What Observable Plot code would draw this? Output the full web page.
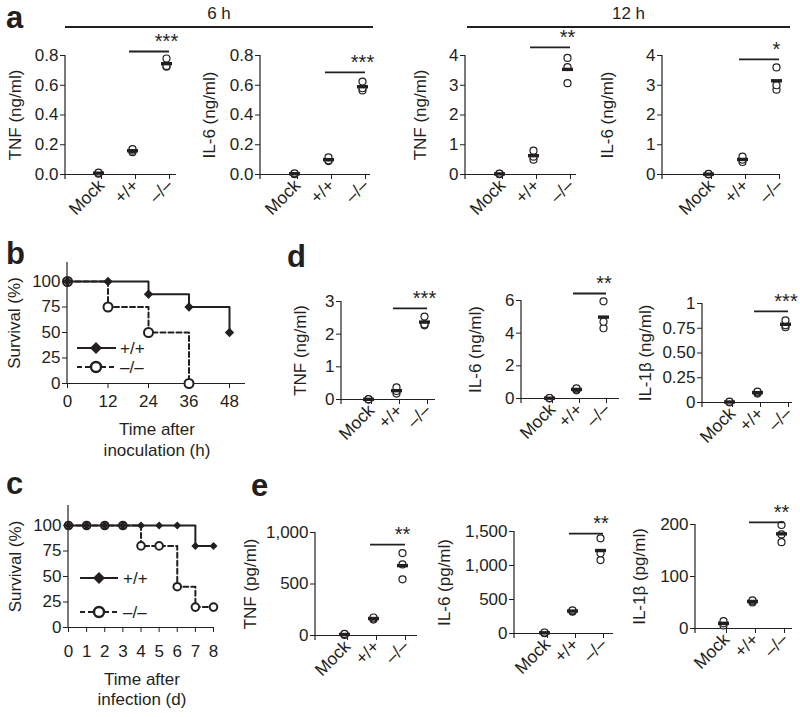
<!DOCTYPE html>
<html><head><meta charset="utf-8">
<script src="https://cdn.jsdelivr.net/npm/d3@7"></script>
<script src="https://cdn.jsdelivr.net/npm/@observablehq/plot@0.6"></script>
<style>
html,body{margin:0;padding:0;background:#fff}
#fig{position:relative;width:800px;height:717px;overflow:hidden;background:#fff}
#fig svg{position:absolute}
</style></head><body><div id="fig"></div>
<script>
// ---------------- data ----------------
const groups = ["Mock", "+/+", "–/–"];
// panel a, 6 h (ng/ml): values per animal for Mock, +/+, –/–
const tnf6h   = [[0.005, 0.01, 0.012], [0.15, 0.16, 0.17], [0.725, 0.73, 0.78]];
const il6_6h  = [[0.002, 0.005, 0.008], [0.09, 0.095, 0.115], [0.565, 0.58, 0.625]];
// panel a, 12 h (ng/ml)
const tnf12h  = [[0.01, 0.02, 0.03], [0.5, 0.6, 0.8], [3.07, 3.61, 3.92]];
const il6_12h = [[0.005, 0.01, 0.02], [0.42, 0.5, 0.6], [2.85, 3.0, 3.6]];
// panel d (ng/ml)
const tnfD  = [[0.0, 0.005, 0.01], [0.18, 0.26, 0.37], [2.27, 2.3, 2.54]];
const il6D  = [[0.01, 0.02, 0.03], [0.5, 0.55, 0.62], [4.3, 4.7, 5.95]];
const il1bD = [[0.002, 0.005, 0.008], [0.09, 0.1, 0.11], [0.76, 0.78, 0.83]];
// panel e (pg/ml)
const tnfE  = [[5, 10, 15], [155, 165, 175], [545, 690, 800]];
const il6E  = [[5, 10, 15], [320, 330, 340], [1080, 1180, 1400]];
const il1bE = [[6, 10, 14], [50, 52, 54], [166, 181, 199]];
// significance bars (value level) and labels
const sigLevel = [0.827, 0.686, 4.27, 3.87, 2.79, 6.43, 0.92, 883, 1470, 204];
const sigStars = ["***", "***", "**", "*", "***", "**", "***", "**", "**", "**"];
// y tick values and labels
const ticks06 = [0, 0.2, 0.4, 0.6, 0.8], labels06 = ["0.0", "0.2", "0.4", "0.6", "0.8"];
const ticks04 = [0, 1, 2, 3, 4], labels04 = ["0", "1", "2", "3", "4"];
const ticks03 = [0, 1, 2, 3], labels03 = ["0", "1", "2", "3"];
const ticks06i = [0, 2, 4, 6], labels06i = ["0", "2", "4", "6"];
const ticks01 = [0, 0.25, 0.5, 0.75, 1], labels01 = ["0", "0.25", "0.50", "0.75", "1"];
const ticksE1 = [0, 500, 1000], labelsE1 = ["0", "500", "1,000"];
const ticksE2 = [0, 500, 1000, 1500], labelsE2 = ["0", "500", "1,000", "1,500"];
const ticksE3 = [0, 100, 200], labelsE3 = ["0", "100", "200"];
// panel b survival (h)
const bHours = [0, 12, 24, 36, 48], bWT = [100, 100, 87.5, 75, 50];
const bKOHours = [0, 12, 24, 36], bKO = [100, 75, 50, 0];
const bXTicks = [0, 12, 24, 36, 48];
// panel c survival (d)
const cDays = [0, 1, 2, 3, 4, 5, 6, 7, 8];
const cWT = [100, 100, 100, 100, 100, 100, 100, 80, 80];
const cKO = [100, 100, 100, 100, 80, 80, 40, 20, 20];
const survTicks = [0, 25, 50, 75, 100];

// ---------------- layout / style ----------------
const INK = "#231f20";
const FONT = '"Liberation Sans", Arial, Helvetica, sans-serif';
const FS = 17;
const fig = document.getElementById("fig");

function yAxisLine(extend) {
  return (index, scales, values, dims) => {
    const l = document.createElementNS("http://www.w3.org/2000/svg", "line");
    l.setAttribute("x1", dims.marginLeft); l.setAttribute("x2", dims.marginLeft);
    l.setAttribute("y1", dims.marginTop); l.setAttribute("y2", dims.height - dims.marginBottom + extend);
    l.setAttribute("stroke", INK); l.setAttribute("stroke-width", 1.2);
    return l;
  };
}
const meanBar = {draw(ctx) { ctx.moveTo(-5.5, -1.7); ctx.lineTo(5.5, -1.7); ctx.lineTo(5.5, 1.7); ctx.lineTo(-5.5, 1.7); ctx.closePath(); }};

function place(svg, left, top) {
  svg.style.left = left + "px"; svg.style.top = top + "px";
  fig.appendChild(svg);
}

function dotPanel(L, values, k, ticks, tickLabels, label) {
  const left = L.axisX - 85, top = L.yTop - 45;
  const width = L.xEnd + 12 - left, height = L.yZero + 70 - top;
  const rows = values.flatMap((vs, i) => vs.map(v => ({g: groups[i], v})));
  const fmt = new Map(ticks.map((t, i) => [t, tickLabels[i]]));
  const sig = [{y: sigLevel[k], from: groups[1], to: groups[2], s: sigStars[k]}];
  const step = (L.c2 - L.c0) / 2;
  const svg = Plot.plot({
    width, height,
    marginLeft: L.axisX - left, marginRight: left + width - L.xEnd,
    marginTop: L.yTop - top, marginBottom: top + height - L.yZero,
    style: {fontFamily: FONT, fontSize: FS + "px", color: INK, background: "transparent", overflow: "visible"},
    x: {type: "point", domain: groups, range: [L.c0 - left, L.c2 - left], padding: 0},
    y: {domain: [0, ticks[ticks.length - 1]]},
    marks: [
      Plot.axisY({ticks, tickFormat: t => fmt.get(t), tickSize: 5, tickPadding: 2, label, labelAnchor: "center", labelOffset: L.lo, labelArrow: "none"}),
      Plot.axisX({tickSize: 5, tickPadding: 3, tickRotate: -45, label: null, dx: 3, fontSize: 17.5}),
      yAxisLine(5),
      Plot.ruleY([0], {stroke: INK, strokeWidth: 1.2}),
      Plot.dot(rows, {x: "g", y: "v", r: 3.5, stroke: INK, strokeWidth: 1.2, fill: "white"}),
      Plot.dot(rows, Plot.groupX({y: "mean"}, {x: "g", y: "v", symbol: meanBar, fill: INK, stroke: "none"})),
      Plot.ruleY(sig, {y: "y", x1: "from", x2: "to", stroke: INK, strokeWidth: 1.8, insetLeft: -3, insetRight: -3}),
      Plot.text(sig, {x: "from", y: "y", text: "s", dx: step, dy: -10, lineAnchor: "middle", fontSize: 20, fill: INK})
    ]
  });
  place(svg, left, top);
}

dotPanel({axisX: 65, xEnd: 176, yTop: 55, yZero: 174, c0: 98, c2: 166, lo: 57}, tnf6h, 0, ticks06, labels06, "TNF (ng/ml)");
dotPanel({axisX: 260, xEnd: 370, yTop: 55, yZero: 174, c0: 294, c2: 362, lo: 58}, il6_6h, 1, ticks06, labels06, "IL-6 (ng/ml)");
dotPanel({axisX: 465, xEnd: 576, yTop: 55, yZero: 174, c0: 499, c2: 567, lo: 52}, tnf12h, 2, ticks04, labels04, "TNF (ng/ml)");
dotPanel({axisX: 662, xEnd: 780, yTop: 55, yZero: 174, c0: 708, c2: 776, lo: 62}, il6_12h, 3, ticks04, labels04, "IL-6 (ng/ml)");
dotPanel({axisX: 341, xEnd: 435, yTop: 301, yZero: 399, c0: 368, c2: 424, lo: 48}, tnfD, 4, ticks03, labels03, "TNF (ng/ml)");
dotPanel({axisX: 521, xEnd: 619, yTop: 300, yZero: 398, c0: 548, c2: 603, lo: 53}, il6D, 5, ticks06i, labels06i, "IL-6 (ng/ml)");
dotPanel({axisX: 702, xEnd: 792, yTop: 303, yZero: 402, c0: 728, c2: 785, lo: 64}, il1bD, 6, ticks01, labels01, "IL-1β (ng/ml)");
dotPanel({axisX: 315, xEnd: 417, yTop: 532, yZero: 635, c0: 344, c2: 402, lo: 72}, tnfE, 7, ticksE1, labelsE1, "TNF (pg/ml)");
dotPanel({axisX: 514, xEnd: 613, yTop: 531, yZero: 633, c0: 543, c2: 600, lo: 77}, il6E, 8, ticksE2, labelsE2, "IL-6 (pg/ml)");
dotPanel({axisX: 695, xEnd: 792, yTop: 524, yZero: 628, c0: 723, c2: 781, lo: 63}, il1bE, 9, ticksE3, labelsE3, "IL-1β (pg/ml)");

function survivalPanel(L, wtT, wtS, koT, koS, xTicks) {
  const left = L.x0 - 80, top = L.yAxisTop - 10;
  const width = L.xEnd + 12 - left, height = L.y0 + 40 - top;
  const ymax = 100 * (L.y0 - L.yAxisTop) / (L.y0 - L.y100);
  const xmax = xTicks[xTicks.length - 1] * (L.xEnd - L.x0) / (L.xLast - L.x0);
  const wt = wtT.map((t, i) => ({t, s: wtS[i]}));
  const ko = koT.map((t, i) => ({t, s: koS[i]}));
  const svg = Plot.plot({
    width, height,
    marginLeft: L.x0 - left, marginRight: left + width - L.xEnd,
    marginTop: L.yAxisTop - top, marginBottom: top + height - L.y0,
    style: {fontFamily: FONT, fontSize: FS + "px", color: INK, background: "transparent", overflow: "visible"},
    x: {domain: [0, xmax]},
    y: {domain: [0, ymax]},
    marks: [
      Plot.axisY({ticks: survTicks, tickSize: 5, tickPadding: 2, label: "Survival (%)", labelAnchor: "center", labelOffset: L.lo, labelArrow: "none"}),
      Plot.axisX({ticks: xTicks, tickSize: 5, tickPadding: L.tp, label: null}),
      yAxisLine(0),
      Plot.ruleY([0], {stroke: INK, strokeWidth: 1.2}),
      Plot.line(ko, {x: "t", y: "s", curve: "step-after", stroke: INK, strokeWidth: 2, strokeDasharray: "5,3"}),
      Plot.line(wt, {x: "t", y: "s", curve: "step-after", stroke: INK, strokeWidth: 2}),
      Plot.dot(ko, {x: "t", y: "s", r: L.rc, fill: "white", stroke: INK, strokeWidth: 2}),
      Plot.dot(wt, {x: "t", y: "s", symbol: "diamond2", r: L.rd, fill: INK, stroke: "none"})
    ]
  });
  place(svg, left, top);
}
survivalPanel({x0: 67, xLast: 229, xEnd: 245, y0: 383, y100: 281, yAxisTop: 262, lo: 60, tp: 6, rc: 4.5, rd: 4.2}, bHours, bWT, bKOHours, bKO, bXTicks);
survivalPanel({x0: 68, xLast: 213, xEnd: 214, y0: 627, y100: 525, yAxisTop: 505, lo: 60, tp: 12, rc: 3.8, rd: 3.6}, cDays, cWT, cDays, cKO, cDays);

// ---------------- overlay: panel letters, time headers, legends, x titles ----------------
const letters = [["a", 6, 28], ["b", 6, 264], ["c", 6, 494], ["d", 287, 267], ["e", 251, 496]];
const headers = [["6 h", 65, 373], ["12 h", 467, 790]];
const xTitles = [["Time after", 157, 435], ["inoculation (h)", 157, 456], ["Time after", 142, 685], ["infection (d)", 142, 705]];
const legends = [[77, 116, 96, 348, 367, 120], [80, 118, 99, 578, 612, 123]];
let ov = `<svg width="800" height="717" style="left:0;top:0" font-family='${FONT}' fill="${INK}">`;
for (const [t, x, y] of letters) ov += `<text x="${x}" y="${y}" font-size="31" font-weight="bold">${t}</text>`;
for (const [t, x1, x2] of headers) ov += `<text x="${(x1 + x2) / 2}" y="19" font-size="17" text-anchor="middle">${t}</text><line x1="${x1}" x2="${x2}" y1="27" y2="27" stroke="${INK}" stroke-width="2"/>`;
for (const [t, x, y] of xTitles) ov += `<text x="${x}" y="${y}" font-size="17" text-anchor="middle">${t}</text>`;
for (const [x1, x2, xm, y1, y2, xt] of legends) {
  ov += `<line x1="${x1}" x2="${x2}" y1="${y1}" y2="${y1}" stroke="${INK}" stroke-width="2"/>`;
  ov += `<path d="M${xm},${y1 - 6}L${xm + 6},${y1}L${xm},${y1 + 6}L${xm - 6},${y1}Z" fill="${INK}"/>`;
  ov += `<text x="${xt}" y="${y1 + 6}" font-size="17">+/+</text>`;
  ov += `<line x1="${x1}" x2="${x2}" y1="${y2}" y2="${y2}" stroke="${INK}" stroke-width="2" stroke-dasharray="5,3"/>`;
  ov += `<circle cx="${xm}" cy="${y2}" r="5" fill="white" stroke="${INK}" stroke-width="2.4"/>`;
  ov += `<text x="${xt}" y="${y2 + 6}" font-size="17">–/–</text>`;
}
ov += `</svg>`;
fig.insertAdjacentHTML("beforeend", ov);
</script></body></html>
